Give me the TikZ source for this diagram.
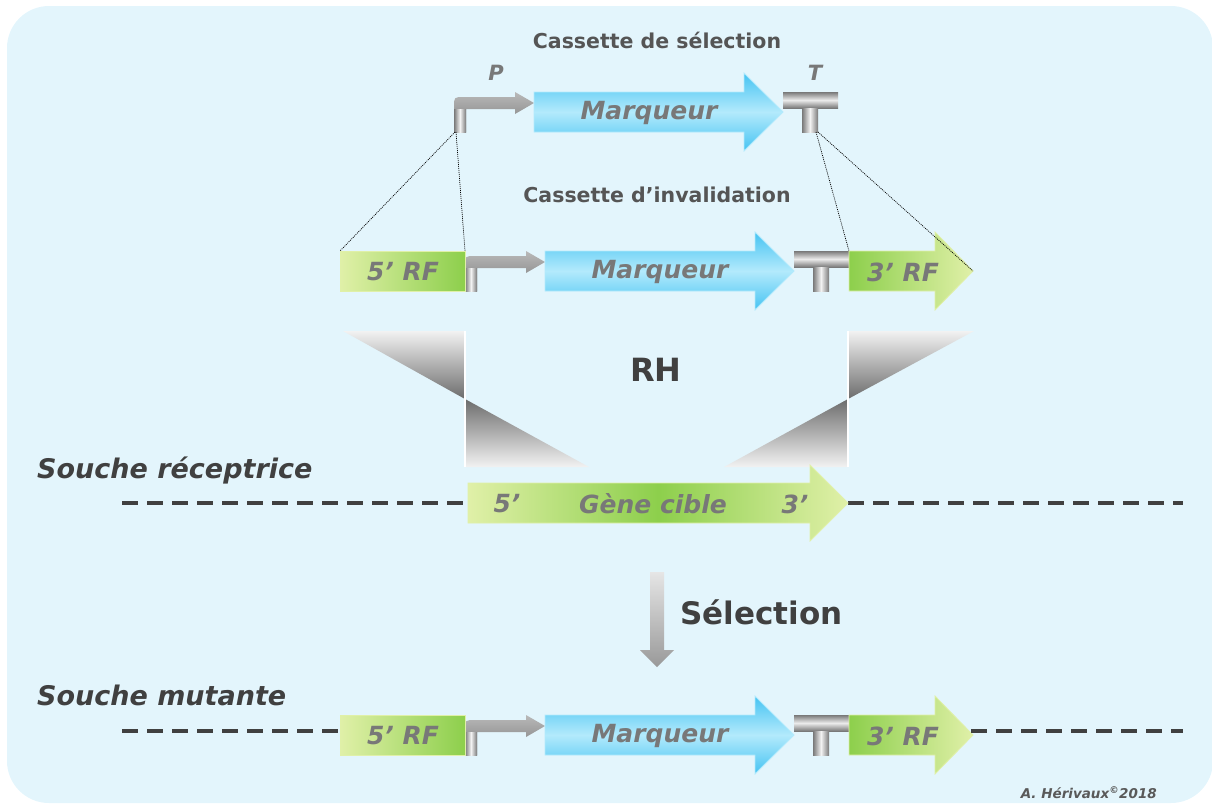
\documentclass[tikz,border=0pt]{standalone}
\usepackage{fontspec}
\setmainfont{DejaVu Sans}
\usetikzlibrary{positioning}

\definecolor{fond}{HTML}{E3F5FC}
\definecolor{bleu}{HTML}{45C3F2}
\definecolor{bleuclair}{HTML}{B3EAFC}
\definecolor{vert}{HTML}{8DCF4C}
\definecolor{vertclair}{HTML}{E0F0A8}
\definecolor{gristexte}{HTML}{787878}
\definecolor{grisfonce}{HTML}{404040}
\definecolor{gristitre}{HTML}{555555}

\tikzset{
  etiq/.style={inner sep=0pt, text=gristexte, font=\bfseries\itshape\fontsize{25}{30}\selectfont},
  titre/.style={inner sep=0pt, text=gristitre, font=\bfseries\fontsize{20.5}{24}\selectfont},
  souche/.style={inner sep=0pt, anchor=west, text=grisfonce, font=\bfseries\itshape\fontsize{27}{32}\selectfont},
  adn/.style={grisfonce, line width=4.5pt, dash pattern=on 16pt off 9pt},
  lien/.style={black, line width=0.7pt, dash pattern=on 1pt off 1pt},
  metal/.style={top color=gray!95!black, bottom color=gray!95!black, middle color=gray!15},
  metalv/.style={left color=gray!95!black, right color=gray!95!black, middle color=gray!10},
  cassette/.pic={
    % promoteur
    \shade[top color=gray!55, bottom color=gray!95!black] (465,20) -- (465,-5) .. controls (465,-15) .. (475,-15)
      -- (526,-15) -- (526,-20) -- (545,-9) -- (526,2) -- (526,-3) -- (477,-3) -- (477,20) -- cycle;
    \shade[metalv] (465,-3) rectangle (477,20);
    \coordinate (-p1) at (466,20);
    \coordinate (-p2) at (467,20);
    % marqueur
    \shade[top color=bleu, bottom color=bleu, middle color=bleuclair, draw=bleuclair, line width=0.8pt]
      (545,-20) -- (755,-20) -- (755,-39) -- (794,0) -- (755,39) -- (755,20) -- (545,20) -- cycle;
    \node (-marq) [etiq] at (660,1) {Marqueur};
    % terminateur
    \shade[metal] (794,-20) rectangle (849,-4);
    \shade[metalv] (813,-4) rectangle (829,20);
    \coordinate (-t1) at (827,20);
    \coordinate (-t2) at (829,20);
  },
  flancs/.pic={
    \shade[left color=vertclair, right color=vert, draw=vertclair, line width=0.8pt] (340,-20) rectangle (465,20);
    \node (-rf5) [etiq] at (403,1) {5’ RF};
    \shade[left color=vert, right color=vertclair, draw=vertclair, line width=0.8pt]
      (849,-20) -- (935,-20) -- (935,-39) -- (973,0) -- (935,39) -- (935,20) -- (849,20) -- cycle;
    \node (-rf3) [etiq] at (903,1) {3’ RF};
    \coordinate (-g) at (340,-20);
    \coordinate (-d) at (465,-20);
    \coordinate (-h) at (849,-20);
    \coordinate (-pt) at (973,0);
    \coordinate (-w) at (340,-4);
    \coordinate (-e) at (971,-4);
  }
}

\begin{document}
\begin{tikzpicture}[x=1pt, y=-1pt]
  \useasboundingbox (0,0) rectangle (1212,807);
  \fill[fond, rounded corners=42pt] (7,6) rectangle (1213,803);

  % cassettes
  \node (titre1) [titre] at (657,40) {Cassette de sélection};
  \node (titre2) [titre] at (657,195) {Cassette d’invalidation};
  \node (prom) [etiq, font=\bfseries\itshape\fontsize{21}{25}\selectfont] at (496,73) {P};
  \node (term) [etiq, font=\bfseries\itshape\fontsize{21}{25}\selectfont] at (815,73) {T};
  \pic (sel) at (-11,112) {cassette};
  \pic (inv) at (0,271) {cassette};
  \pic (inv) at (0,271) {flancs};
  \draw[lien] (sel-p1) -- (inv-g);
  \draw[lien] (sel-p2) -- (inv-d);
  \draw[lien] (sel-t1) -- (inv-h);
  \draw[lien] (sel-t2) -- (inv-pt);

  % recombinaison homologue
  \shade[top color=white!90!gray, bottom color=gray!85!black] (343,331) -- (465,331) -- (465,399) -- cycle;
  \shade[top color=gray!85!black, bottom color=white!90!gray] (465,399) -- (465,467) -- (589,467) -- cycle;
  \shade[top color=white!90!gray, bottom color=gray!85!black] (848,331) -- (974,331) -- (848,399) -- cycle;
  \shade[top color=gray!85!black, bottom color=white!90!gray] (848,399) -- (848,467) -- (724,467) -- cycle;
  \draw[white, line width=1.5pt] (465,331) -- (465,467);
  \draw[white, line width=1.5pt] (848,331) -- (848,467);
  \node (rh) [inner sep=0pt, text=grisfonce, font=\bfseries\fontsize{32}{38}\selectfont] at (656,370) {RH};

  % souche receptrice
  \node (recep) [souche] at (37,470) {Souche réceptrice};
  \coordinate (rg) at (122,503);
  \coordinate (rd) at (1183,503);
  \coordinate (cw) at (468,503);
  \coordinate (ce) at (848,503);
  \draw[adn] (rg) -- (cw);
  \draw[adn] (ce) -- (rd);
  \shade[left color=vertclair, right color=vertclair, middle color=vert, draw=vertclair, line width=0.8pt]
    (468,483) -- (810,483) -- (810,465) -- (848,503) -- (810,541) -- (810,523) -- (468,523) -- cycle;
  \node (cinq) [etiq] at (507,504) {5’};
  \node (gene) [etiq] at (653,504) {Gène cible};
  \node (trois) [etiq] at (795,504) {3’};

  % selection
  \shade[top color=gray!20, bottom color=gray!80]
    (650,572) -- (664,572) -- (664,650) -- (674,650) -- (657,667) -- (640,650) -- (650,650) -- cycle;
  \node (selec) [inner sep=0pt, anchor=west, text=grisfonce, font=\bfseries\fontsize{31}{37}\selectfont] at (680,612) {Sélection};

  % souche mutante
  \node (mut) [souche] at (37,695) {Souche mutante};
  \pic (mut) at (0,735) {cassette};
  \pic (mut) at (0,735) {flancs};
  \coordinate (mg) at (122,731);
  \coordinate (md) at (1183,731);
  \draw[adn] (mg) -- (mut-w);
  \draw[adn] (mut-e) -- (md);

  \node (auteur) [inner sep=0pt, anchor=east, text=gray!70!black, font=\bfseries\itshape\fontsize{13.5}{16}\selectfont]
    at (1157,793) {A. Hérivaux\textsuperscript{©}2018};
\end{tikzpicture}
\end{document}
